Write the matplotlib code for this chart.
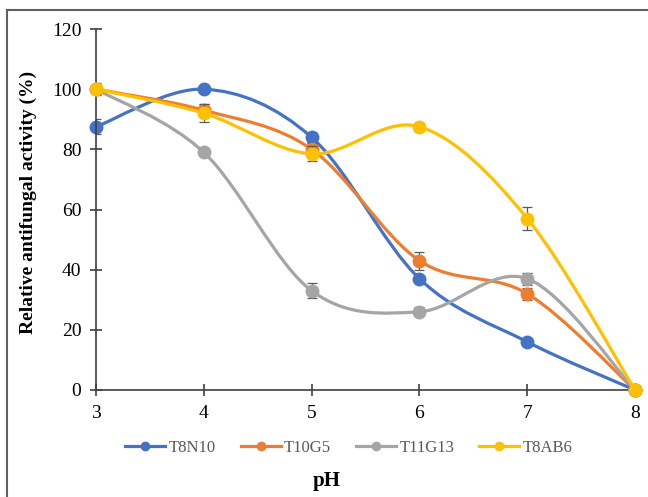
import numpy as np
import matplotlib
matplotlib.use('Agg')
from matplotlib import pyplot as plt
from matplotlib.path import Path
from matplotlib.patches import PathPatch
from matplotlib.lines import Line2D

plt.rcParams['font.family'] = ['Liberation Serif', 'DejaVu Serif']

### DATA ###
ph = [3, 4, 5, 6, 7, 8]
names = ['T8N10', 'T10G5', 'T11G13', 'T8AB6']
t8n10 = [87.5, 100, 84, 37, 16, 0]
t10g5 = [100, 93, 80, 43, 32, 0]
t11g13 = [100, 79, 33, 26, 37, 0]
t8ab6 = [100, 92, 78.5, 87.5, 57, 0]
t8n10_err = [2.5, 0.8, 1.5, 1.0, 0.8, 0]
t10g5_err = [1.5, 2.0, 2.0, 3.0, 2.0, 0]
t11g13_err = [2.0, 1.0, 2.5, 1.5, 2.0, 0]
t8ab6_err = [1.5, 3.0, 2.5, 1.0, 3.8, 0]
colors = ['#4472C4', '#ED7D31', '#A5A5A5', '#FFC000']


def smooth_path(x, y, t=1/6.):
    # excel-ish smoothed line: catmull-rom as cubic beziers
    x = np.asarray(x, float); y = np.asarray(y, float)
    verts = [(x[0], y[0])]
    codes = [Path.MOVETO]
    n = len(x)
    for i in range(n - 1):
        i0 = max(i - 1, 0); i3 = min(i + 2, n - 1)
        c1 = (x[i] + (x[i+1] - x[i0]) * t, y[i] + (y[i+1] - y[i0]) * t)
        c2 = (x[i+1] - (x[i3] - x[i]) * t, y[i+1] - (y[i3] - y[i]) * t)
        verts += [c1, c2, (x[i+1], y[i+1])]
        codes += [Path.CURVE4] * 3
    return Path(verts, codes)


fig = plt.figure(figsize=(6.48, 4.97), dpi=100)
ax = fig.add_axes([96/648, 1 - 390/497, 539/648, 361/497])

series = [t8n10, t10g5, t11g13, t8ab6]
errs = [t8n10_err, t10g5_err, t11g13_err, t8ab6_err]
for i, (s, e) in enumerate(zip(series, errs)):
    ax.add_patch(PathPatch(smooth_path(ph, s), fc='none', ec=colors[i], lw=2.3,
                           zorder=2 + i, capstyle='round'))
    ax.errorbar(ph, s, yerr=e, fmt='none', ecolor='#595959', elinewidth=0.9,
                capsize=3.5, capthick=0.9, zorder=2 + i)
    ax.plot(ph, s, 'o', color=colors[i], ms=9, zorder=2.5 + i, clip_on=False)

ax.set_xlim(3, 8)
ax.set_ylim(0, 120)
ax.set_xticks(ph)
ax.set_yticks(np.arange(0, 121, 20))
for sp in ['top', 'right']:
    ax.spines[sp].set_visible(False)
for sp in ['left', 'bottom']:
    ax.spines[sp].set_color('#404040')
    ax.spines[sp].set_linewidth(1.2)
ax.tick_params(direction='inout', length=9, width=1.2, color='#404040',
               labelsize=14, pad=6)
ax.set_ylabel('Relative antifungal activity (%)', fontsize=14, fontweight='bold')
ax.yaxis.set_label_coords(-0.11, 0.52)

handles = [Line2D([], [], color=c, lw=2.3, marker='o', ms=6) for c in colors]
fig.legend(handles, names, loc='center', bbox_to_anchor=(349/648, 1 - 448/497), ncol=4,
           frameon=False, fontsize=12, handlelength=2.4, columnspacing=1.5,
           handletextpad=0.2, labelcolor='#595959')
fig.text(327/648, 1 - 481/497, 'pH', ha='center', va='center', fontsize=15, fontweight='bold')

# frame only on left and top (picture is cropped)
fig.add_artist(Line2D([7/648, 7/648], [0, 1 - 10/497], transform=fig.transFigure,
                      color='#606060', lw=1.5))
fig.add_artist(Line2D([7/648, 1], [1 - 10/497, 1 - 10/497], transform=fig.transFigure,
                      color='#606060', lw=1.5))

fig.savefig('out.png', dpi=100)
